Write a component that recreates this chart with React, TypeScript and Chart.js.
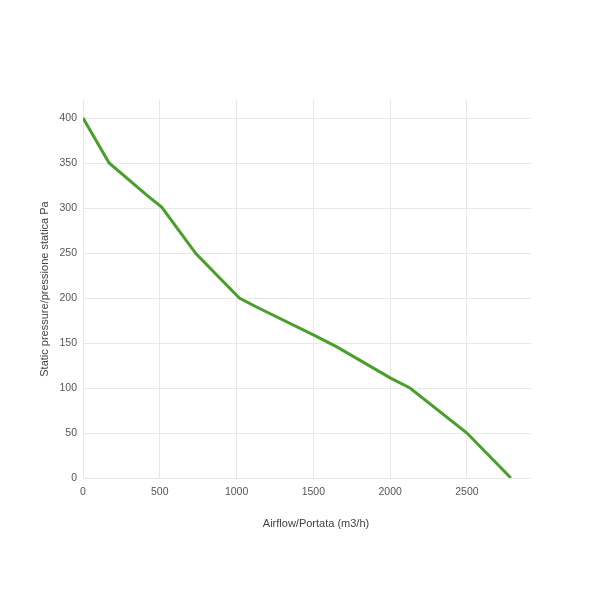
import React, { useEffect, useRef } from "react";
import { Chart, registerables } from "chart.js";

Chart.register(...registerables);

const airflow = [0, 170, 417, 512, 736, 1018, 1130, 1500, 1650, 2003, 2129, 2500, 2786];
const pressure = [400, 350, 314, 301, 249, 200, 190, 159, 146, 111, 100, 50, 0];
const xTicks = [0, 500, 1000, 1500, 2000, 2500];
const yTicks = [0, 50, 100, 150, 200, 250, 300, 350, 400];
const xTitle = "Airflow/Portata (m3/h)";
const yTitle = "Static pressure/pressione statica Pa";

const FAMILY = "'Liberation Sans', Arial, sans-serif";

const xTitlePlugin = {
  id: "xTitlePlugin",
  afterDraw(chart: any) {
    const { ctx, chartArea } = chart;
    ctx.save();
    ctx.font = `11px ${FAMILY}`;
    ctx.fillStyle = "#444";
    ctx.textAlign = "center";
    ctx.textBaseline = "middle";
    ctx.fillText(xTitle, (chartArea.left + chartArea.right) / 2 + 9, chartArea.bottom + 46);
    ctx.restore();
  },
};

export default function App() {
  const ref = useRef<HTMLCanvasElement | null>(null);
  useEffect(() => {
    if (!ref.current) return;
    const tickFont = { family: FAMILY, size: 10.5 };
    const titleFont = { family: FAMILY, size: 11 };
    const chart = new Chart(ref.current, {
      type: "scatter",
      data: {
        datasets: [
          {
            data: airflow.map((x, i) => ({ x, y: pressure[i] })),
            showLine: true,
            borderColor: "#4a9e2c",
            borderWidth: 3,
            pointRadius: 0,
            fill: false,
            tension: 0,
          },
        ],
      },
      plugins: [xTitlePlugin],
      options: {
        responsive: false,
        animation: false,
        layout: { padding: { left: 0, top: 100, right: 58, bottom: 0 } },
        plugins: { legend: { display: false }, tooltip: { enabled: false } },
        scales: {
          x: {
            type: "linear",
            min: 0,
            max: 2917,
            afterBuildTicks: (s: any) => {
              s.ticks = xTicks.map((v) => ({ value: v }));
            },
            afterFit: (s: any) => {
              s.height = 111;
            },
            grid: { color: "#e8e8e8", drawTicks: false, lineWidth: 1 },
            border: { display: false },
            ticks: { color: "#555", font: tickFont, padding: 8, maxRotation: 0, callback: (v: any) => String(v) },
            title: { display: false },
          },
          y: {
            type: "linear",
            min: 0,
            max: 420,
            afterBuildTicks: (s: any) => {
              s.ticks = yTicks.map((v) => ({ value: v }));
            },
            afterFit: (s: any) => {
              s.width = 83;
            },
            grid: { color: "#e8e8e8", drawTicks: false, lineWidth: 1 },
            border: { display: false },
            ticks: { color: "#555", font: tickFont, padding: 6, callback: (v: any) => String(v) },
            title: {
              display: true,
              text: yTitle,
              color: "#444",
              font: titleFont,
              padding: { top: 38, bottom: 0 },
            },
          },
        },
      },
    } as any);
    return () => chart.destroy();
  }, []);
  return (
    <div style={{ position: "fixed", left: 0, top: 0, width: 589, height: 589, background: "#fff" }}>
      <canvas ref={ref} width={589} height={589} style={{ display: "block" }} />
    </div>
  );
}
